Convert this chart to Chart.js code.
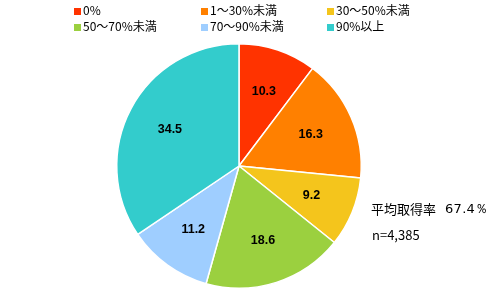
<!DOCTYPE html>
<html>
<head>
<meta charset="utf-8">
<script src="https://cdn.jsdelivr.net/npm/chart.js@4/dist/chart.umd.min.js"></script>
<style>
  html,body{margin:0;padding:0;background:#fff;}
  #wrap{position:relative;width:500px;height:291px;overflow:hidden;}
  #c{position:absolute;left:0;top:0;}
  .lg{position:absolute;font-family:"Noto Sans CJK JP","DejaVu Sans",sans-serif;font-size:12px;color:#000;line-height:14px;white-space:nowrap;}
  .lg i{display:inline-block;width:7px;height:7px;margin-right:2px;vertical-align:0px;}
  .note{position:absolute;font-family:"Noto Sans CJK JP","DejaVu Sans",sans-serif;font-size:13px;color:#000;white-space:nowrap;line-height:15px;}
</style>
</head>
<body>
<div id="wrap">
  <canvas id="c" width="500" height="291"></canvas>
  <div id="legend"></div>
  <div class="note" style="left:371px;top:201px;">平均取得率</div>
  <div class="note" style="left:445px;top:201px;font-family:'DejaVu Sans',sans-serif;letter-spacing:0.3px;">67.4％</div>
  <div class="note" style="left:372px;top:227px;">n=4,385</div>
</div>
<script>
const categories = ["0%", "1～30%未満", "30～50%未満", "50～70%未満", "70～90%未満", "90%以上"];
const shareValues = [10.3, 16.3, 9.2, 18.6, 11.2, 34.5];
const sliceColors = ["#FF3300", "#FF8000", "#F4C51C", "#9BD03F", "#9FCEFF", "#33CCCC"];

// HTML legend (3 columns x 2 rows)
const legendCols = [74, 201, 327];
const legendRows = [3, 19];
const lgEl = document.getElementById('legend');
categories.forEach((c, i) => {
  const d = document.createElement('div');
  d.className = 'lg';
  d.style.left = legendCols[i % 3] + 'px';
  d.style.top = legendRows[Math.floor(i / 3)] + 'px';
  d.innerHTML = '<i style="background:' + sliceColors[i] + '"></i>' + c;
  lgEl.appendChild(d);
});

const labelPlugin = {
  id: 'sliceLabels',
  afterDatasetsDraw(chart) {
    const ctx = chart.ctx;
    const meta = chart.getDatasetMeta(0);
    ctx.save();
    ctx.font = 'bold 12.5px "Liberation Sans", Arial, sans-serif';
    ctx.fillStyle = '#000';
    ctx.textAlign = 'center';
    ctx.textBaseline = 'middle';
    meta.data.forEach((arc, i) => {
      const p = arc.getProps(['x', 'y', 'startAngle', 'endAngle', 'outerRadius'], true);
      const mid = (p.startAngle + p.endAngle) / 2;
      const r = p.outerRadius * 0.64;
      ctx.fillText(chart.data.datasets[0].data[i].toFixed(1), p.x + Math.cos(mid) * r, p.y + Math.sin(mid) * r);
    });
    ctx.restore();
  }
};

new Chart(document.getElementById('c'), {
  type: 'pie',
  data: {
    labels: categories,
    datasets: [{
      data: shareValues,
      backgroundColor: sliceColors,
      borderColor: '#FFFFFF',
      borderWidth: 1.5
    }]
  },
  options: {
    responsive: false,
    animation: false,
    layout: { padding: { top: 43, bottom: 2, left: 0, right: 22 } },
    plugins: { legend: { display: false }, tooltip: { enabled: false } }
  },
  plugins: [labelPlugin]
});
</script>
</body>
</html>
